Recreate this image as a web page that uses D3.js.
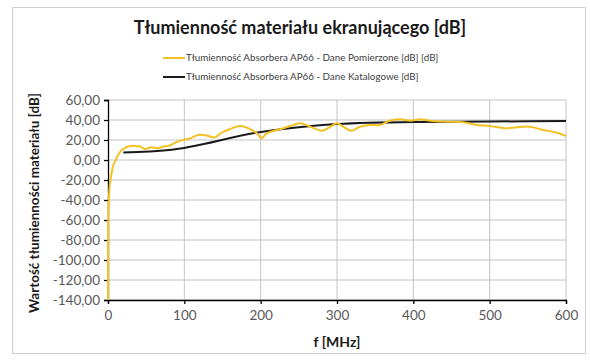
<!DOCTYPE html>
<html>
<head>
<meta charset="utf-8">
<script src="https://cdn.jsdelivr.net/npm/d3@7"></script>
<style>
  body { margin: 0; background: #fff; }
  text { font-family: Lato, "Open Sans", sans-serif; }
</style>
</head>
<body>
<div id="chart"></div>
<script>
// Measured series (f in MHz, attenuation in dB)
let measuredF = [0, 0.3, 1, 2.6, 5, 7, 10, 14, 18, 22, 26, 31, 42, 48, 57, 64, 72, 81, 90, 101, 107, 118, 129, 140, 147, 160, 173, 184, 195, 201, 208, 225, 243, 252, 265, 280, 290, 300, 308, 319, 330, 343, 356, 369, 383, 396, 409, 422, 444, 465, 483, 500, 522, 535, 553, 570, 588, 600];
let measuredV = [-140, -60, -40, -23, -12, -5, 0, 6, 10, 12, 13.5, 14, 13.5, 11, 12.7, 11.7, 13.3, 14.5, 18, 20.5, 21.5, 25, 24.5, 22.5, 26.5, 31, 34, 31.7, 26.7, 21.7, 26.7, 30.7, 35, 36.7, 33.3, 29.3, 32.7, 36.7, 33.3, 29.3, 33.3, 35, 35, 39.3, 40.7, 39.3, 40.7, 39.3, 38.3, 37.7, 35, 34, 31.7, 32.7, 33.3, 30, 27.3, 24];

// Catalogue series
let catalogF = [20, 80, 200, 300, 400, 500, 600];
let catalogV = [7.5, 10, 28, 36, 38, 38.5, 39];

let yTicks = [60, 40, 20, 0, -20, -40, -60, -80, -100, -120, -140];
let xTicks = [0, 100, 200, 300, 400, 500, 600];

let title = "Tłumienność materiału ekranującego [dB]";
let seriesNames = ["Tłumienność Absorbera AP66 - Dane Pomierzone [dB] [dB]", "Tłumienność Absorbera AP66 - Dane Katalogowe [dB]"];
let seriesColors = ["#f2c124", "#1a1a1a"];

let W = 590, H = 360;
let margin = { top: 100, right: 24, bottom: 60, left: 108 },
    width = 566 - margin.left,
    height = 300 - margin.top;

let svg = d3.select("#chart").append("svg")
    .attr("width", W).attr("height", H);

// outer frame
svg.append("rect")
    .attr("x", 12.5).attr("y", 7.5)
    .attr("width", 573).attr("height", 346)
    .attr("fill", "#fff").attr("stroke", "#d0d0d0");

svg.append("text")
    .attr("x", 300).attr("y", 34)
    .attr("text-anchor", "middle")
    .attr("font-size", 18).attr("font-weight", "bold")
    .attr("fill", "#1a1a1a")
    .text(title);

// legend
seriesNames.forEach(function (name, i) {
    let ly = 58 + i * 19;
    svg.append("line")
        .attr("x1", 163).attr("x2", 185)
        .attr("y1", ly).attr("y2", ly)
        .attr("stroke", seriesColors[i]).attr("stroke-width", 2);
    svg.append("text")
        .attr("x", 186).attr("y", ly + 3)
        .attr("font-size", 9.8).attr("fill", "#404040")
        .text(name);
});

let x = d3.scaleLinear().domain([0, 600]).range([0, width]);
let y = d3.scaleLinear().domain([-140, 60]).range([height, 0]);

let g = svg.append("g")
    .attr("transform", "translate(" + margin.left + "," + margin.top + ")");

// grid
g.selectAll(".hgrid").data(yTicks).enter().append("line")
    .attr("x1", 0).attr("x2", width)
    .attr("y1", d => y(d)).attr("y2", d => y(d))
    .attr("stroke", "#c4c4c4");
g.selectAll(".vgrid").data(xTicks.slice(1)).enter().append("line")
    .attr("x1", d => x(d)).attr("x2", d => x(d))
    .attr("y1", 0).attr("y2", height)
    .attr("stroke", "#c4c4c4");

// axes
let yAxis = g.append("g")
    .call(d3.axisLeft(y).tickValues(yTicks).tickSize(4).tickPadding(4)
        .tickFormat(d => d3.format(".2f")(d).replace(".", ",").replace("−", "-")));
let xAxis = g.append("g")
    .attr("transform", "translate(0," + height + ")")
    .call(d3.axisBottom(x).tickValues(xTicks).tickSize(4).tickPadding(6));
[yAxis, xAxis].forEach(function (a) {
    a.select(".domain").attr("stroke", "#000").attr("stroke-width", 1.3);
    a.selectAll(".tick line").attr("stroke", "#000").attr("stroke-width", 1.3);
    a.selectAll("text").attr("font-family", "Lato, sans-serif")
        .attr("font-size", 13.5).attr("fill", "#595959");
});

// series
let measured = measuredF.map((f, i) => [f, measuredV[i]]);
let catalog = catalogF.map((f, i) => [f, catalogV[i]]);

let line = d3.line().x(d => x(d[0])).y(d => y(d[1]));

g.append("path").datum(catalog)
    .attr("fill", "none").attr("stroke", seriesColors[1]).attr("stroke-width", 2)
    .attr("d", line.curve(d3.curveMonotoneX));

g.append("path").datum(measured)
    .attr("fill", "none").attr("stroke", seriesColors[0]).attr("stroke-width", 2)
    .attr("d", line.curve(d3.curveCatmullRom.alpha(0.5)));

// axis titles
svg.append("text")
    .attr("x", 337).attr("y", 347)
    .attr("text-anchor", "middle")
    .attr("font-size", 14).attr("font-weight", "bold").attr("fill", "#1a1a1a")
    .text("f [MHz]");

svg.append("text")
    .attr("transform", "translate(39,203) rotate(-90)")
    .attr("text-anchor", "middle")
    .attr("font-size", 13.5).attr("font-weight", "bold").attr("fill", "#1a1a1a")
    .text("Wartość tłumienności materiału  [dB]");
</script>
</body>
</html>
